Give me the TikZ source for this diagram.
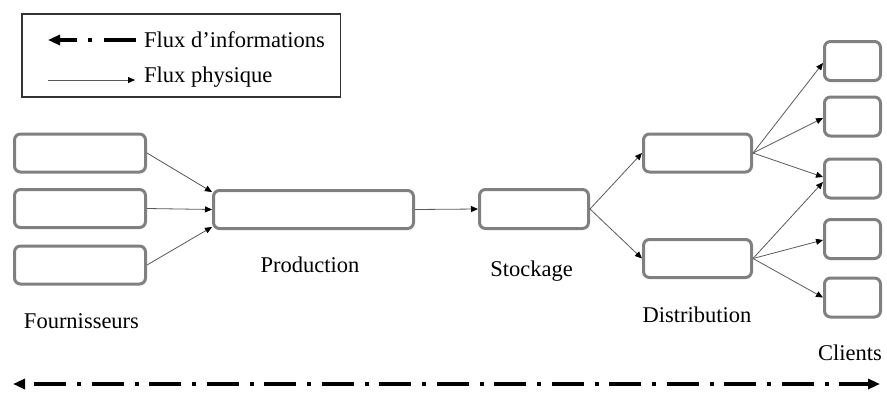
\documentclass[tikz,border=0pt]{standalone}
\usepackage{fontspec}
\setmainfont{Liberation Serif}
\usetikzlibrary{arrows.meta}
\tikzset{
  stage/.style={draw=black!50, line width=3pt, rounded corners=6pt, fill=white, inner sep=0pt},
  flow/.style={draw=black!65, line width=0.8pt, -{Triangle[length=7pt,width=6pt,color=black]}},
  info/.style={draw=black, line width=3.6pt, {Triangle[length=12pt,width=10pt]}-{Triangle[length=12pt,width=10pt]},
    dash pattern=on 32pt off 10.75pt on 4pt off 10.75pt, dash phase=47.5pt},
  lbl/.style={font=\fontsize{22.5}{26}\selectfont, inner sep=0pt, anchor=base},
  legendbox/.style={draw=black!80, line width=1.2pt}
}
\begin{document}
\begin{tikzpicture}[x=1pt,y=-1pt]
\useasboundingbox (0,0) rectangle (887,392);

% legend
\draw[legendbox] (22,14) rectangle (340.5,97);
\coordinate (lgIa) at (48,40);
\coordinate (lgIb) at (136,40);
\coordinate (lgPa) at (48,80);
\coordinate (lgPb) at (135,80);
\draw[draw=black, line width=3.6pt, {Triangle[length=12pt,width=10pt]}-,
      dash pattern=on 18pt off 11pt on 4pt off 12pt on 40pt] (lgIa) -- (lgIb);
\draw[flow] (lgPa) -- (lgPb);
\node[lbl, anchor=base west] (lgInfo) at (144,47) {Flux d’informations};
\node[lbl, anchor=base west] (lgPhys) at (144,82) {Flux physique};

% suppliers
\node[stage, minimum width=131pt, minimum height=38pt] (F1) at (80,153) {};
\node[stage, minimum width=131pt, minimum height=38pt] (F2) at (80,208.5) {};
\node[stage, minimum width=131pt, minimum height=38pt] (F3) at (80,265) {};
% production
\node[stage, minimum width=200pt, minimum height=38pt] (P) at (313.5,209.5) {};
% storage
\node[stage, minimum width=109pt, minimum height=39pt] (S) at (534,209) {};
% distribution
\node[stage, minimum width=108pt, minimum height=38pt] (D1) at (697.5,153) {};
\node[stage, minimum width=108pt, minimum height=38pt] (D2) at (697.5,258.5) {};
% customers
\node[stage, minimum width=56pt, minimum height=39pt] (C1) at (852.5,61) {};
\node[stage, minimum width=56pt, minimum height=39pt] (C2) at (852.5,116.5) {};
\node[stage, minimum width=56pt, minimum height=39pt] (C3) at (852.5,178.5) {};
\node[stage, minimum width=56pt, minimum height=39pt] (C4) at (852.5,239) {};
\node[stage, minimum width=56pt, minimum height=39pt] (C5) at (852.5,297.5) {};

% labels
\node[lbl] (tF) at (81.5,328) {Fournisseurs};
\node[lbl] (tP) at (310,272) {Production};
\node[lbl] (tS) at (531.5,276) {Stockage};
\node[lbl] (tD) at (697,322) {Distribution};
\node[lbl] (tC) at (850,360) {Clients};

% physical flows
\draw[flow] (F1.east) -- ([yshift=17.5pt]P.west);
\draw[flow] (F2.east) -- (P.west);
\draw[flow] (F3.east) -- ([yshift=-17.5pt]P.west);
\draw[flow] (P.east) -- (S.west);
\draw[flow] (S.east) -- (D1.west);
\draw[flow] (S.east) -- (D2.west);
\draw[flow] (D1.east) -- ([yshift=-2pt]C1.west);
\draw[flow] (D1.east) -- ([yshift=-1.5pt]C2.west);
\draw[flow] (D1.east) -- ([yshift=1.5pt]C3.west);
\draw[flow] (D2.east) -- ([yshift=-3.5pt]C3.west);
\draw[flow] (D2.east) -- ([yshift=-1pt]C4.west);
\draw[flow] (D2.east) -- (C5.west);

% information flow along the whole chain
\coordinate (infoL) at (13,384);
\coordinate (infoR) at (880,384);
\draw[info] (infoL) -- (infoR);
\end{tikzpicture}
\end{document}
